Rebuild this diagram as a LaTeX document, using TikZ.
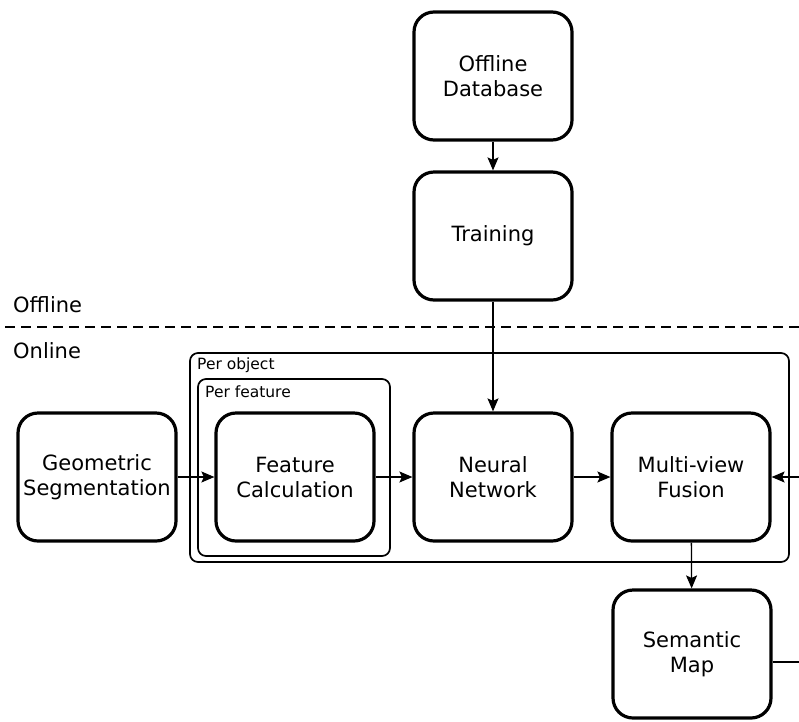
\documentclass[tikz,border=0pt]{standalone}
\usepackage{fontspec}
\setmainfont{DejaVu Sans}
\usetikzlibrary{arrows.meta}
\begin{document}
\begin{tikzpicture}[x=1pt,y=-1pt,
  box/.style={draw, line width=3.2pt, rounded corners=20pt, minimum width=158pt, minimum height=128pt,
    align=center, inner sep=0pt, font=\fontsize{21}{25}\selectfont},
  container/.style={draw, line width=1.7pt, rounded corners=8pt},
  lbl/.style={anchor=base west, inner sep=0pt, font=\fontsize{21}{25}\selectfont},
  small/.style={anchor=base west, inner sep=0pt, font=\fontsize{15.5}{18}\selectfont},
  arr/.style={line width=1.3pt, -{Stealth[length=13pt,width=11pt,inset=2.5pt]}},
  ln/.style={line width=1.3pt}]
\useasboundingbox (0,0) rectangle (799,721);

% containers
\draw[container] (190,353) rectangle (789,562);
\draw[container] (198,379) rectangle (390,556);
\node[small] (perobj) at (197,369) {Per object};
\node[small] (perfeat) at (205,397) {Per feature};

% offline / online
\draw[ln, dash pattern=on 10pt off 6pt] (5,327) -- (799,327);
\node[lbl] (offl) at (13,312) {Offline};
\node[lbl] (onl) at (13,358) {Online};

% boxes
\node[box] (db) at (493,76) {Offline\\Database};
\node[box] (train) at (493,236) {Training};
\node[box] (geo) at (97,477) {Geometric\\Segmentation};
\node[box] (feat) at (295,477) {Feature\\Calculation};
\node[box] (nn) at (493,477) {Neural\\Network};
\node[box] (fus) at (691,477) {Multi-view\\Fusion};
\node[box] (map) at (692,654) {Semantic\\Map};

\coordinate (rin) at (799,477);
\coordinate (rout) at (799,662);

% connectors
\draw[arr] (db) -- (train);
\draw[arr] (train) -- (nn);
\draw[arr] (geo) -- (feat);
\draw[arr] (feat) -- (nn);
\draw[arr] (nn) -- (fus);
\draw[arr] (rin) -- (fus.east);
\draw[arr] (fus) -- (map);
\draw[ln] (map.east |- rout) -- (rout);
\end{tikzpicture}
\end{document}
